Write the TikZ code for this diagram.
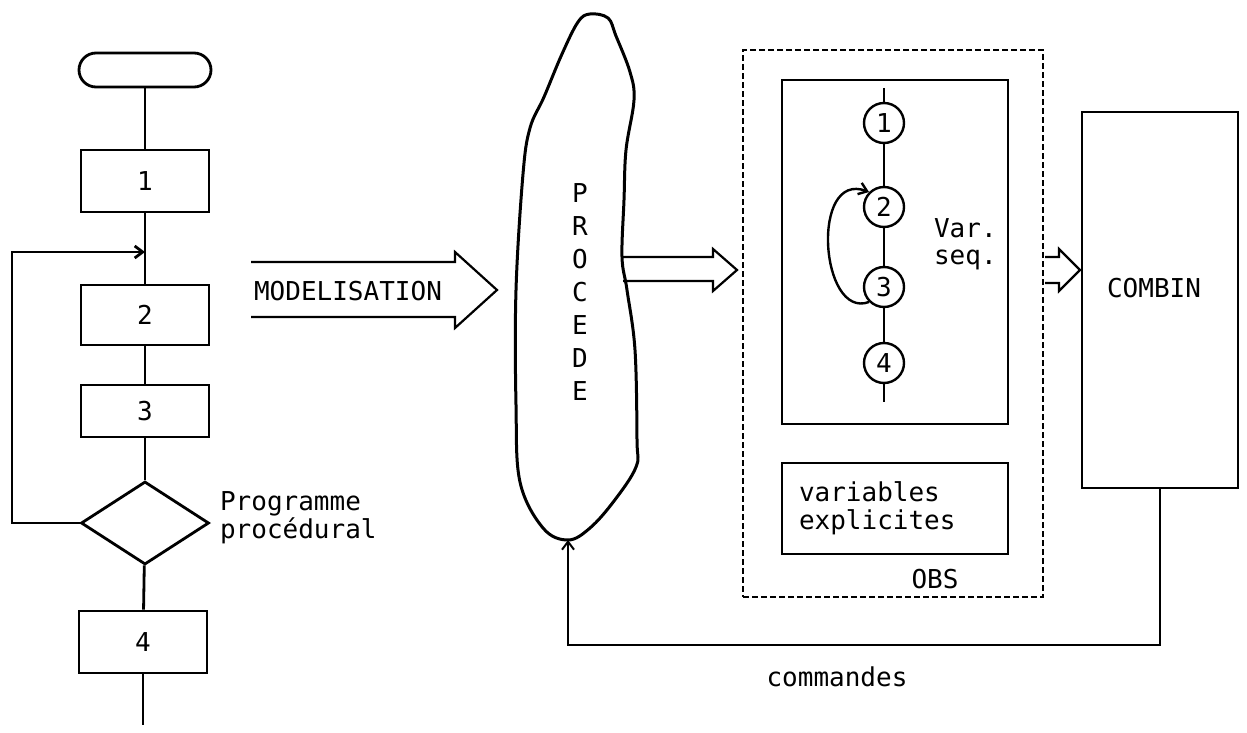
\documentclass[tikz,border=0pt]{standalone}
\usepackage{fontspec}
\setmainfont{DejaVu Sans Mono}
\usetikzlibrary{shapes.geometric,arrows.meta}
\tikzset{
  boite/.style={draw,line width=1.4pt,minimum width=64pt,inner sep=0pt},
  etat/.style={draw,circle,line width=1.2pt,minimum size=20pt,inner sep=0pt},
  trait/.style={line width=1.4pt},
  fil/.style={line width=1pt},
  fleche/.style={line width=1.1pt,line join=miter},
  >={Straight Barb[length=4pt,width=6pt]}
}
\begin{document}
\begin{tikzpicture}[x=0.5pt,y=-0.5pt,font=\fontsize{13}{14}\selectfont]
      \useasboundingbox (0,0) rectangle (1247,733);
      % programme procedural
      \draw
        (145,70) node[boite,rounded corners=8.5pt,minimum width=66pt,minimum height=17pt] (debut){}
        (145,181) node[boite,minimum height=31pt] (b1){1}
        (145,315) node[boite,minimum height=30pt] (b2){2}
        (145,411) node[boite,minimum height=26pt] (b3){3}
        (145,523) node[boite,diamond,minimum height=41.5pt] (test){}
        (143,642) node[boite,minimum height=31pt] (b4){4};
      \coordinate (retour) at (145,252);
      \coordinate (fin) at (143,725);
      \node[anchor=west,align=left] (prog) at (213,518) {Programme\\procédural};
      \begin{scope}[trait]
        \draw (debut) to (b1);
        \draw (b1) to (b2);
        \draw (b2) to (b3);
        \draw (b3) to (test);
        \draw (test) to (b4);
        \draw (b4) to (fin);
        \draw[->] (test.west) -- (12,523) |- (retour);
      \end{scope}
      % modelisation
      \node (modele) at (348,291) {MODELISATION};
      \draw[fleche] (251,262) -- (455,262) -- (455,252) -- (497,290)
        -- (455,328) -- (455,317) -- (251,317);
      % procede
      \draw[line width=1.5pt] plot[smooth cycle,tension=0.6] coordinates {
        (590,14) (608,18) (616,36) (630,72) (634,100) (626,150) (624,200)
        (622,257) (627,290) (635,350) (637,440) (636,467) (614,501)
        (590,528) (568,540) (543,528) (520,482) (516,405) (516,290)
        (523,174) (530,128) (544,97) (562,54) (578,22)};
      \node[align=center,font=\fontsize{13}{16.5}\selectfont] (procede) at (580,292)
        {P\\R\\O\\C\\E\\D\\E};
      \coordinate (pied) at (568,540);
      \draw[fleche] (623,257) -- (713,257) -- (713,249) -- (737,270)
        -- (713,291) -- (713,281) -- (623,281);
      % observateur
      \node[draw,line width=1pt,dash pattern=on 3pt off 1.5pt,minimum width=150pt,
        minimum height=273.5pt] (obs) at (893,323.5) {};
      \node[boite,minimum width=113pt,minimum height=172pt] (seq) at (895,252) {};
      \draw
        (884,123) node[etat] (e1){1}
        (884,207) node[etat] (e2){2}
        (884,287) node[etat] (e3){3}
        (884,363) node[etat] (e4){4};
      \coordinate (haut) at (884,88);
      \coordinate (bas) at (884,402);
      \begin{scope}[line width=1.2pt]
        \draw (haut) to (e1);
        \draw (e1) to (e2);
        \draw (e2) to (e3);
        \draw (e3) to (e4);
        \draw (e4) to (bas);
        \draw[->] (e3.225) .. controls (820,320) and (810,170) .. (e2.135);
      \end{scope}
      \node[anchor=west,align=left,font=\fontsize{13}{13.5}\selectfont] (var) at (927,244)
        {Var.\\seq.};
      \node[boite,minimum width=113pt,minimum height=45.5pt,align=left,
        text width=96pt,inner xsep=8.5pt] (expl) at (895,508.5)
        {variables\\explicites};
      \node (obsnom) at (935,579) {OBS};
      % combinatoire
      \draw[fleche] (1045,257) -- (1059,257) -- (1059,249) -- (1080,270)
        -- (1059,291) -- (1059,283) -- (1045,283);
      \node[boite,minimum width=78pt,minimum height=188pt] (combin) at (1160,300) {};
      \node (combinnom) at (1154,288) {COMBIN};
      \coordinate (coin) at (568,645);
      \draw[fil,->] (combin.south) |- (coin) -- (pied);
      \node (cmd) at (837,677) {commandes};
    \end{tikzpicture}
\end{document}
